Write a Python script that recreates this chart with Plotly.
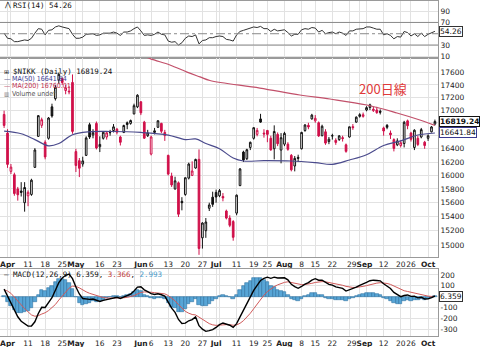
import numpy as np
import plotly.graph_objects as go

# ---- Nikkei 225 daily bars, 2016-03-31 .. 2016-10-05 ----
dates = [
    "2016-03-31", "2016-04-01", "2016-04-04", "2016-04-05", "2016-04-06", "2016-04-07", "2016-04-08",
    "2016-04-11", "2016-04-12", "2016-04-13", "2016-04-14", "2016-04-15",
    "2016-04-18", "2016-04-19", "2016-04-20", "2016-04-21", "2016-04-22",
    "2016-04-25", "2016-04-26", "2016-04-27", "2016-04-28",
    "2016-05-02", "2016-05-06",
    "2016-05-09", "2016-05-10", "2016-05-11", "2016-05-12", "2016-05-13",
    "2016-05-16", "2016-05-17", "2016-05-18", "2016-05-19", "2016-05-20",
    "2016-05-23", "2016-05-24", "2016-05-25", "2016-05-26", "2016-05-27",
    "2016-05-30", "2016-05-31", "2016-06-01", "2016-06-02", "2016-06-03",
    "2016-06-06", "2016-06-07", "2016-06-08", "2016-06-09", "2016-06-10",
    "2016-06-13", "2016-06-14", "2016-06-15", "2016-06-16", "2016-06-17",
    "2016-06-20", "2016-06-21", "2016-06-22", "2016-06-23", "2016-06-24",
    "2016-06-27", "2016-06-28", "2016-06-29", "2016-06-30", "2016-07-01",
    "2016-07-04", "2016-07-05", "2016-07-06", "2016-07-07", "2016-07-08",
    "2016-07-11", "2016-07-12", "2016-07-13", "2016-07-14", "2016-07-15",
    "2016-07-19", "2016-07-20", "2016-07-21", "2016-07-22",
    "2016-07-25", "2016-07-26", "2016-07-27", "2016-07-28", "2016-07-29",
    "2016-08-01", "2016-08-02", "2016-08-03", "2016-08-04", "2016-08-05",
    "2016-08-08", "2016-08-09", "2016-08-10", "2016-08-12",
    "2016-08-15", "2016-08-16", "2016-08-17", "2016-08-18", "2016-08-19",
    "2016-08-22", "2016-08-23", "2016-08-24", "2016-08-25", "2016-08-26",
    "2016-08-29", "2016-08-30", "2016-08-31", "2016-09-01", "2016-09-02",
    "2016-09-05", "2016-09-06", "2016-09-07", "2016-09-08", "2016-09-09",
    "2016-09-12", "2016-09-13", "2016-09-14", "2016-09-15", "2016-09-16",
    "2016-09-20", "2016-09-21", "2016-09-23",
    "2016-09-26", "2016-09-27", "2016-09-28", "2016-09-29", "2016-09-30",
    "2016-10-03", "2016-10-04", "2016-10-05",
]

opens = [
    16930, 16640, 16060, 16010, 15800, 15770, 15600,
    15700, 15720, 16120, 16590, 16760,
    16500, 16560, 17050, 17180, 17480,
    17500, 17310, 17300, 17440,
    16357, 16220,
    16170, 16300, 16770, 16610, 16790,
    16430, 16560, 16580, 16650, 16680,
    16700, 16580, 16650, 16800, 16790,
    16940, 17050, 17130, 16810, 16600,
    16320, 16650, 16730, 16790, 16650,
    16300, 15990, 15800, 15890, 15620,
    15720, 15960, 16000, 16110, 16240,
    15100, 15200, 15520, 15680, 15750,
    15700, 15690, 15480, 15380, 15330,
    15450, 15850, 16350, 16250, 16420,
    16560, 16620, 16860, 16640,
    16680, 16560, 16400, 16620, 16380,
    16470, 16470, 16300, 16140, 16270,
    16400, 16680, 16760, 16860,
    16830, 16800, 16600, 16660, 16510,
    16600, 16530, 16540, 16570, 16460,
    16580, 16740, 16810, 16900, 16900,
    17000, 17040, 16990, 17000, 16980,
    16720, 16760, 16640, 16540, 16460,
    16450, 16480, 16830,
    16640, 16420, 16560, 16580, 16500,
    16560, 16660, 16780,
]

highs = [
    16990, 16700, 16170, 16040, 15830, 15900, 15900,
    15780, 15950, 16410, 16920, 16880,
    16530, 16890, 17100, 17400, 17600,
    17520, 17400, 17380, 17570,
    16400, 16260,
    16280, 16590, 16800, 16700, 16820,
    16590, 16670, 16660, 16690, 16780,
    16720, 16600, 16770, 16820, 16850,
    17100, 17250, 17140, 16830, 16690,
    16600, 16720, 16840, 16800, 16690,
    16310, 16040, 15980, 15910, 15680,
    15970, 16190, 16210, 16250, 16390,
    15320, 15380, 15600, 15760, 15790,
    15800, 15740, 15500, 15420, 15350,
    15720, 16110, 16370, 16400, 16510,
    16730, 16720, 16940, 16700,
    16690, 16600, 16760, 16650, 16640,
    16660, 16500, 16320, 16290, 16310,
    16660, 16780, 16800, 16940,
    16920, 16820, 16770, 16700, 16580,
    16630, 16560, 16610, 16600, 16480,
    16740, 16780, 16900, 16950, 16960,
    17060, 17100, 17050, 17050, 17010,
    16740, 16780, 16680, 16560, 16560,
    16530, 16830, 16850,
    16660, 16700, 16600, 16720, 16520,
    16620, 16750, 16850,
]

lows = [
    16720, 16112, 16020, 15701, 15630, 15690, 15471,
    15550, 15700, 16110, 16580, 16720,
    16240, 16540, 16880, 17150, 17420,
    17400, 17250, 17250, 16630,
    16050, 15975,
    16130, 16290, 16550, 16560, 16390,
    16350, 16540, 16540, 16600, 16650,
    16620, 16450, 16640, 16700, 16770,
    16930, 17030, 16920, 16550, 16580,
    16300, 16620, 16720, 16640, 16520,
    16000, 15830, 15790, 15395, 15490,
    15700, 15940, 15990, 16100, 14864,
    14950, 15100, 15480, 15540, 15600,
    15680, 15620, 15360, 15250, 15060,
    15420, 15840, 16200, 16230, 16380,
    16540, 16590, 16800, 16570,
    16500, 16370, 16240, 16440, 16180,
    16440, 16370, 16060, 16060, 16200,
    16390, 16660, 16700, 16850,
    16800, 16580, 16590, 16460, 16470,
    16540, 16460, 16520, 16510, 16340,
    16570, 16690, 16800, 16880, 16880,
    16980, 17000, 16970, 16940, 16930,
    16600, 16700, 16550, 16360, 16440,
    16420, 16420, 16700,
    16510, 16380, 16440, 16560, 16400,
    16520, 16650, 16760,
]

closes = [
    16758.67, 16164.16, 16123.27, 15732.82, 15715.36, 15749.84, 15821.52,
    15751.13, 15928.79, 16381.22, 16911.05, 16848.03,
    16275.95, 16874.44, 16906.54, 17363.62, 17572.49,
    17439.30, 17353.28, 17290.49, 16666.05,
    16147.38, 16106.72,
    16216.03, 16565.19, 16579.01, 16646.34, 16412.21,
    16466.40, 16652.80, 16644.69, 16646.66, 16736.35,
    16654.60, 16498.76, 16757.35, 16772.46, 16834.84,
    17068.02, 17234.98, 16955.73, 16562.55, 16642.23,
    16580.03, 16675.45, 16830.92, 16668.41, 16601.36,
    16019.18, 15859.00, 15919.58, 15434.14, 15599.66,
    15965.30, 16169.11, 16065.72, 16238.35, 14952.02,
    15309.21, 15323.14, 15566.83, 15575.92, 15682.48,
    15775.80, 15669.33, 15378.99, 15276.24, 15106.98,
    15708.82, 16095.65, 16231.43, 16385.89, 16497.85,
    16723.31, 16681.89, 16810.22, 16627.25,
    16620.29, 16383.04, 16664.82, 16476.84, 16569.27,
    16635.77, 16391.45, 16083.11, 16254.45, 16254.89,
    16650.57, 16764.97, 16735.12, 16919.92,
    16869.56, 16596.51, 16745.64, 16486.01, 16545.82,
    16598.19, 16497.36, 16597.30, 16555.95, 16360.71,
    16737.49, 16725.36, 16887.40, 16926.84, 16925.68,
    17037.63, 17081.98, 17012.44, 16958.77, 16965.76,
    16672.92, 16729.50, 16614.24, 16405.01, 16519.29,
    16492.15, 16807.62, 16754.02,
    16544.56, 16683.93, 16465.40, 16693.71, 16449.84,
    16598.67, 16735.65, 16819.24,
]
prior_close = 16878.96  # close of the session before the first bar

# RSI(14), one value per session
rsi_values = [
    51, 42, 41, 36, 36, 37, 39, 38, 42, 51, 59, 58, 48, 56, 57, 62, 64, 62,
    60, 59, 49, 42, 42, 44, 49, 49, 50, 47, 48, 51, 51, 51, 53, 51, 47, 53,
    53, 55, 59, 62, 55, 47, 48, 47, 49, 53, 49, 48, 37, 35, 36, 30, 34, 42,
    46, 45, 48, 32, 38, 39, 43, 43, 45, 46, 45, 40, 39, 37, 48, 54, 56, 58,
    59, 62, 61, 63, 59, 59, 54, 58, 55, 56, 57, 52, 46, 49, 49, 57, 59, 58,
    61, 60, 53, 56, 50, 52, 53, 50, 53, 51, 47, 55, 55, 58, 59, 59, 62, 62,
    60, 58, 58, 48, 50, 47, 41, 45, 44, 54, 52, 46, 50, 45, 51, 45, 49, 52,
    54.26,
]

# MACD(12,26,9) line and signal, one value per session
macd_line = [
    70, 3, -53, -127, -185, -226, -250, -271, -270, -231, -155, -98,
    -99, -50, -9, 60, 129, 172, 197, 209, 166, 89, 25, -17,
    -22, -25, -21, -36, -44, -34, -27, -21, -9, -6, -16, -2,
    9, 23, 52, 88, 92, 63, 46, 28, 20, 27, 18, 6,
    -50, -106, -144, -210, -247, -244, -222, -211, -186, -267, -299, -319,
    -312, -303, -283, -257, -242, -251, -263, -283, -248, -186, -125, -63,
    -5, 58, 104, 149, 168, 180, 169, 180, 172, 172, 174, 155,
    114, 93, 77, 94, 116, 129, 153, 166, 152, 152, 129, 114,
    106, 90, 84, 76, 52, 64, 71, 89, 105, 116, 132, 147,
    152, 149, 146, 119, 100, 76, 39, 18, 0, 11, 16, 3,
    5, -11, -5, -21, -20, -8, 6.359,
]
macd_signal = [
    64, 52, 31, -1, -38, -75, -110, -142, -168, -180, -175, -160,
    -148, -128, -104, -72, -31, 9, 47, 79, 97, 95, 81, 61,
    45, 31, 20, 9, -1, -8, -12, -14, -13, -11, -12, -10,
    -6, -1, 10, 25, 39, 44, 44, 41, 37, 35, 32, 26,
    11, -12, -38, -73, -108, -135, -152, -164, -168, -188, -210, -232,
    -248, -259, -264, -262, -258, -257, -258, -263, -260, -245, -221, -190,
    -153, -111, -68, -24, 14, 47, 71, 93, 109, 122, 132, 137,
    132, 124, 115, 111, 112, 115, 123, 131, 136, 139, 137, 132,
    127, 120, 112, 105, 95, 88, 85, 86, 89, 95, 102, 111,
    119, 125, 129, 127, 122, 113, 98, 82, 66, 55, 48, 40,
    33, 24, 18, 11, 5.3, 2.6, 3.366,
]

# Moving averages sampled along the drawn curves (bar index, value)
ma50_idx = [-1, 4, 8, 12, 15, 19, 24, 30, 39, 47, 52, 55, 58, 62, 66, 69, 75, 83, 90, 95, 100, 105, 110, 115, 120, 125]
ma50_val = [16670, 16630, 16540, 16445, 16480, 16615, 16660, 16665, 16650, 16610, 16540, 16550, 16480, 16400,
            16260, 16215, 16220, 16215, 16190, 16165, 16230, 16310, 16450, 16520, 16610, 16641.84]
ma200_idx = [36, 41.7, 47.5, 52.5, 56.3, 59.2, 73.8, 85.5, 94.3, 105.1, 113.9, 120.6, 125]
ma200_val = [17960, 17830, 17725, 17608, 17530, 17472, 17350, 17238, 17174, 17079, 16953, 16843, 16760.01]

# Date axis labels (Aug 29 shares its label with the Sep 1 tick)
tick_dates = ["2016-04-01", "2016-04-04", "2016-04-11", "2016-04-18", "2016-04-25", "2016-05-02", "2016-05-09",
              "2016-05-16", "2016-05-23", "2016-05-30", "2016-06-01", "2016-06-06", "2016-06-13", "2016-06-20",
              "2016-06-27", "2016-07-01", "2016-07-04", "2016-07-11", "2016-07-19", "2016-07-25", "2016-08-01",
              "2016-08-08", "2016-08-15", "2016-08-22", "2016-08-29", "2016-09-01", "2016-09-05", "2016-09-12",
              "2016-09-20", "2016-09-26", "2016-10-03"]
tick_labels = ["<b>Apr</b>", "", "11", "18", "25", "<b>May</b>", "", "16", "23", "", "<b>Jun</b>", "6", "13", "20",
               "27", "<b>Jul</b>", "", "11", "19", "25", "<b>Aug</b>", "8", "15", "22", "", "29<b>Sep</b>", "", "12",
               "20", "26", "<b>Oct</b>"]
price_ticks = list(range(15000, 17601, 200))
price_labels = [("" if v in (16600, 16800) else str(v)) for v in price_ticks]  # covered by value tags
rsi_ticks = [10, 30, 70, 90]
macd_ticks = [-300, -200, -100, 0, 100, 200]
macd_labels = ["-300", "-200", "-100", "", "100", "200"]

# ---------------------------------------------------------------------------
n = len(dates)
xi = np.arange(n) - 1          # bar index, first day of April = 0
pos = {d: int(v) for d, v in zip(dates, xi)}
tick_vals = [pos[d] for d in tick_dates]
c = np.array(closes, dtype=float)
macd = np.array(macd_line, dtype=float)
sig = np.array(macd_signal, dtype=float)
hist = macd - sig

prev = np.concatenate([[prior_close], c[:-1]])
rising = c >= prev

RED = "#D0104A"
BLUE_MA = "#4A4A8C"
ROSE_MA = "#C2506A"

fig = go.Figure()

def candles(mask, color):
    idx = np.where(mask)[0]
    return go.Candlestick(
        x=xi[idx], open=np.array(opens)[idx], high=np.array(highs)[idx],
        low=np.array(lows)[idx], close=c[idx],
        increasing=dict(line=dict(color=color, width=1), fillcolor="#ffffff"),
        decreasing=dict(line=dict(color=color, width=1), fillcolor=color),
        whiskerwidth=0, xaxis="x2", yaxis="y2", showlegend=False, hoverinfo="skip")

fig.add_trace(go.Scatter(x=ma200_idx, y=ma200_val, mode="lines", xaxis="x2", yaxis="y2",
                         line=dict(color=ROSE_MA, width=1.2, shape="spline"), showlegend=False))
fig.add_trace(go.Scatter(x=ma50_idx, y=ma50_val, mode="lines", xaxis="x2", yaxis="y2",
                         line=dict(color=BLUE_MA, width=1.2, shape="spline"), showlegend=False))
fig.add_trace(candles(rising, "#111111"))
fig.add_trace(candles(~rising, RED))

fig.add_trace(go.Scatter(x=xi, y=rsi_values, mode="lines", xaxis="x", yaxis="y",
                         line=dict(color="#333333", width=1), showlegend=False))

fig.add_trace(go.Bar(x=xi, y=hist, width=1.0, xaxis="x3", yaxis="y3", showlegend=False,
                     marker=dict(color="#57A5D6", line=dict(color="#2F72A3", width=0.6))))
fig.add_trace(go.Scatter(x=xi, y=sig, mode="lines", xaxis="x3", yaxis="y3",
                         line=dict(color="#D05A5A", width=1), showlegend=False))
fig.add_trace(go.Scatter(x=xi, y=macd, mode="lines", xaxis="x3", yaxis="y3",
                         line=dict(color="#000000", width=1.4), showlegend=False))

# ---- layout geometry (pixels) ----
W, H = 480, 347
ML, MR, MT, MB = 0, 42, 1, 11
PW, PH = W - ML - MR, H - MT - MB

def fy(ypx):
    return (H - MB - ypx) / PH

def fx(xpx):
    return (xpx - ML) / PW

xrange_ = [-2.2, 125.9]
tickfont = dict(family="DejaVu Sans", size=7.5, color="#222222")
GRID = "#E2E2E2"
BORDER = "#9A9A9A"

xcommon = dict(range=xrange_, tickmode="array", tickvals=tick_vals, ticktext=tick_labels, tickangle=0,
               showgrid=True, gridcolor=GRID, gridwidth=1, zeroline=False, ticks="",
               showline=True, linecolor=BORDER, mirror=True, tickfont=tickfont, fixedrange=True)

fig.update_layout(
    width=W, height=H, margin=dict(l=ML, r=MR, t=MT, b=MB),
    paper_bgcolor="white", plot_bgcolor="white", boxmode="overlay", bargap=0,
    xaxis=dict(xcommon, anchor="y", showticklabels=False, matches="x2"),
    xaxis2=dict(xcommon, anchor="y2", showticklabels=True, rangeslider=dict(visible=False)),
    xaxis3=dict(xcommon, anchor="y3", showticklabels=True, matches="x2"),
    yaxis=dict(domain=[fy(58), fy(1)], range=[7, 108], side="right", tickvals=rsi_ticks,
               showgrid=True, gridcolor=GRID, zeroline=False, showline=True, linecolor=BORDER,
               mirror=True, tickfont=tickfont, ticks=""),
    yaxis2=dict(domain=[fy(257), fy(58)], type="log", range=[np.log10(14834), np.log10(17840)],
                side="right", tickvals=price_ticks, ticktext=price_labels,
                showgrid=True, gridcolor=GRID, zeroline=False, showline=True, linecolor=BORDER,
                mirror=True, tickfont=tickfont, ticks=""),
    yaxis3=dict(domain=[fy(336), fy(269)], range=[-362, 255], side="right", tickvals=macd_ticks,
                ticktext=macd_labels,
                showgrid=True, gridcolor=GRID, zeroline=False, showline=True, linecolor=BORDER,
                mirror=True, tickfont=tickfont, ticks=""),
    font=dict(family="DejaVu Sans"),
)

# RSI reference levels
for lvl, dash in [(70, "solid"), (30, "solid"), (50, "dashdot")]:
    fig.add_shape(type="line", xref="x domain", yref="y", x0=0, x1=1, y0=lvl, y1=lvl,
                  line=dict(color="#8A8A8A", width=1, dash=dash))

# highlight ring around the latest sessions
last = xi[-1]
fig.add_shape(type="circle", xref="x2", yref="y2",
              x0=last - 5.0, x1=last + 3.3,
              y0=np.log10(16488), y1=np.log10(17095),
              line=dict(color="#F2C23C", width=1.6))

mono = "DejaVu Sans Mono"
narrow = "Liberation Sans Narrow, DejaVu Sans Condensed, Liberation Sans, sans-serif"

def note(x, y, text, color="#111111", size=7.5, family=mono, anchor="left"):
    fig.add_annotation(xref="paper", yref="paper", x=fx(x), y=fy(y), text=text, showarrow=False,
                       xanchor=anchor, yanchor="middle", font=dict(family=family, size=size, color=color))

# panel legends
note(2, 5, "⋀", size=7, family="DejaVu Sans")
note(11, 5, f"RSI(14) {rsi_values[-1]:.2f}")
note(2, 72, "⊞", size=6, family="DejaVu Sans")
note(11, 72, f"$NIKK (Daily) {closes[-1]:.2f}")
note(2, 79, "—", color=BLUE_MA, size=6.5, family="DejaVu Sans")
note(10, 79, f"MA(50) {ma50_val[-1]:.2f}", color="#3A3A90", family=narrow, size=7)
note(2, 86.3, "—", color=ROSE_MA, size=6.5, family="DejaVu Sans")
note(10, 86.3, f"MA(200) {ma200_val[-1]:.2f}", color="#C03050", family=narrow, size=7)
note(2, 93.6, "▥", color="#777777", size=5.5, family="DejaVu Sans")
note(10, 93.6, "Volume undef", color="#555555", family=narrow, size=7)
note(2, 274.5, (f"— MACD(12,26,9) {macd[-1]:.3f}, <span style='color:#C04040'>{sig[-1]:.3f}</span>, "
                f"<span style='color:#4C9CCB'>{hist[-1]:.3f}</span>"))

# value tags on the right axis
def tag(y, yref, text, border):
    fig.add_annotation(xref="paper", yref=yref, x=fx(439), y=y, xanchor="left", yanchor="middle",
                       text=text, showarrow=False, bgcolor="white", bordercolor=border, borderwidth=1,
                       borderpad=0, font=dict(family="DejaVu Sans", size=7.5, color="#111111"))

tag(rsi_values[-1], "y", f"{rsi_values[-1]:.2f}", "#333333")
tag(np.log10(ma50_val[-1]), "y2", f"{ma50_val[-1]:.2f}", "#3A3A90")
tag(np.log10(closes[-1]), "y2", f"<b>{closes[-1]:.2f}</b>", "#111111")
tag(macd[-1], "y3", f"{macd[-1]:.3f}", "#333333")

# callout for the 200-day line
note(383, 88, "200日線", color="#E03A3A", size=13, family="Noto Sans CJK JP", anchor="center")

fig.write_html("out.html")
